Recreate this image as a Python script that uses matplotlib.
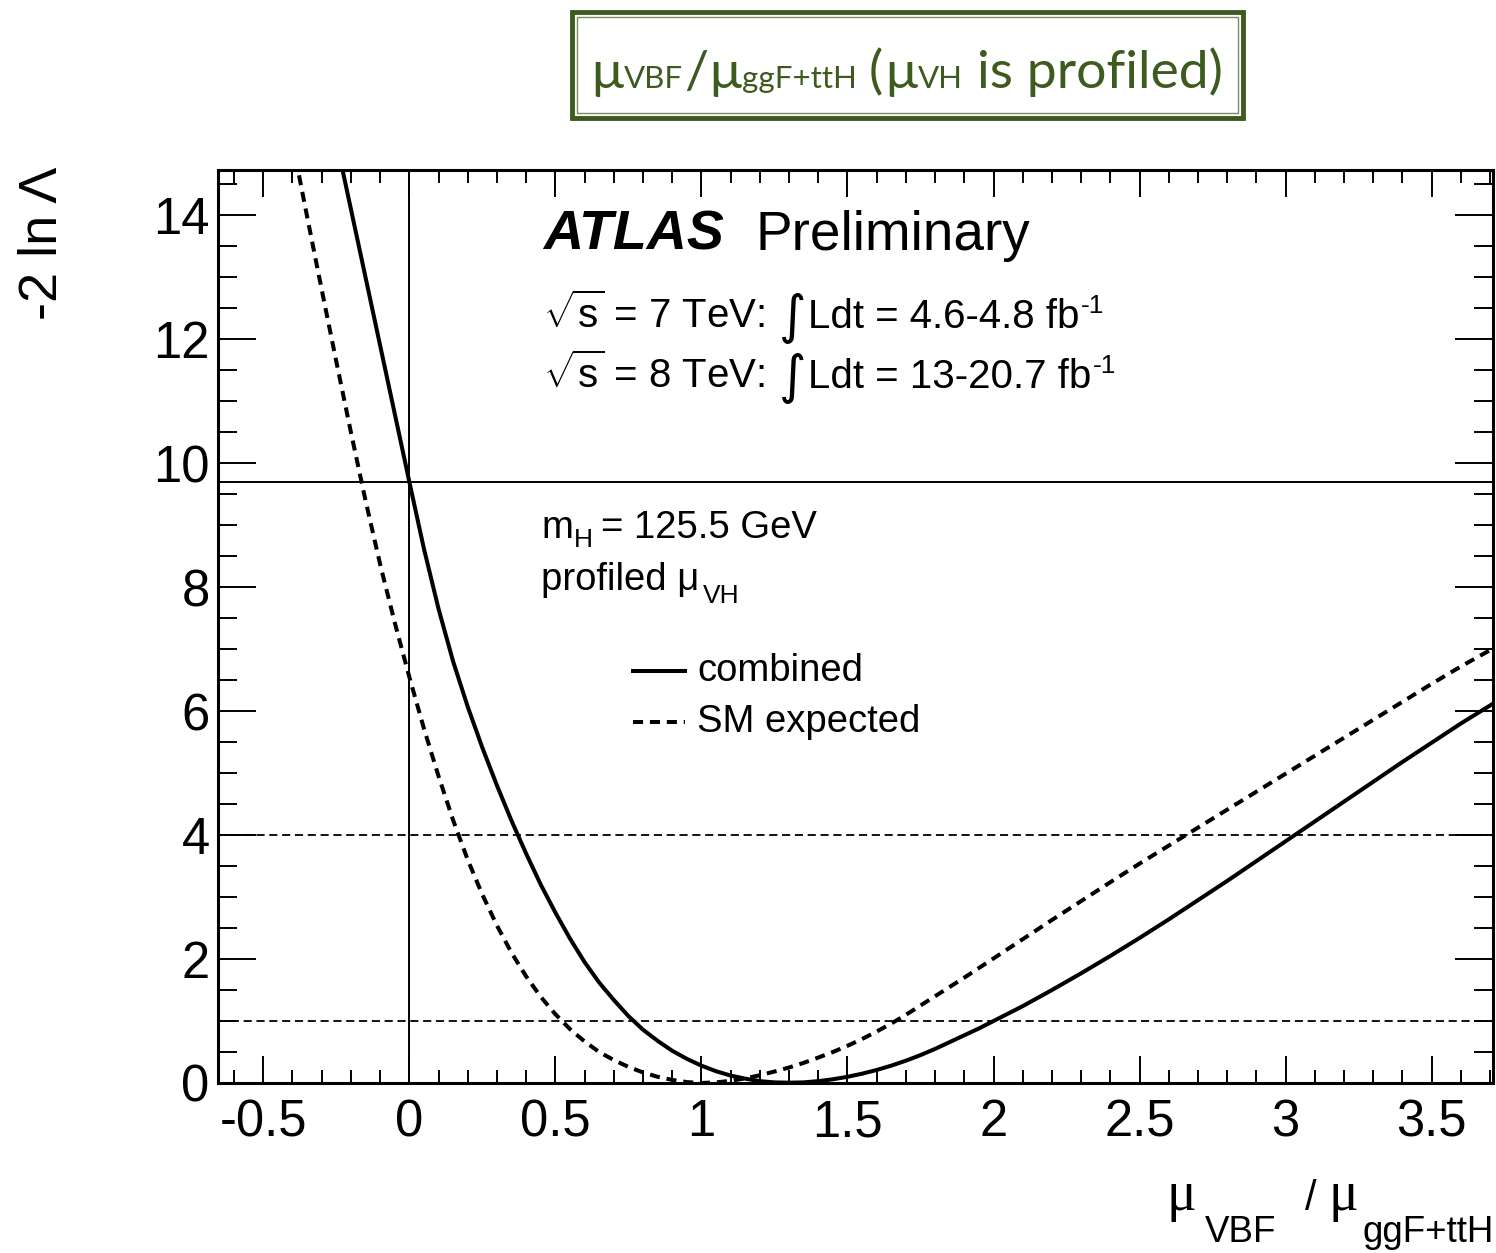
import matplotlib
matplotlib.use("Agg")
import matplotlib.pyplot as plt
from matplotlib.lines import Line2D
from matplotlib.patches import Rectangle
from matplotlib.ticker import MultipleLocator

W, H, DPI = 1496, 1253, 100

# -2 ln Lambda scan, combined (observed)
mu_obs = [-0.25, -0.20, -0.15, -0.10, -0.05, 0.00, 0.05, 0.10, 0.15, 0.20,
          0.25, 0.30, 0.35, 0.40, 0.45, 0.50, 0.55, 0.60, 0.65, 0.70,
          0.75, 0.80, 0.85, 0.90, 0.95, 1.00, 1.05, 1.10, 1.15, 1.20,
          1.25, 1.30, 1.35, 1.40, 1.45, 1.50, 1.55, 1.60, 1.65, 1.70,
          1.75, 1.80, 1.85, 1.90, 1.95, 2.00, 2.10, 2.20, 2.30, 2.40,
          2.50, 2.60, 2.70, 2.80, 2.90, 3.00, 3.10, 3.20, 3.30, 3.40,
          3.50, 3.60, 3.71]
nll_obs = [15.2, 14.1, 13.0, 11.9, 10.8, 9.7, 8.62, 7.65, 6.80, 6.07,
           5.41, 4.80, 4.23, 3.70, 3.20, 2.75, 2.33, 1.95, 1.62, 1.34,
           1.08, 0.86, 0.68, 0.52, 0.39, 0.28, 0.19, 0.12, 0.07, 0.03,
           0.01, 0.005, 0.01, 0.03, 0.06, 0.10, 0.15, 0.21, 0.28, 0.36,
           0.45, 0.55, 0.66, 0.77, 0.88, 1.00, 1.24, 1.50, 1.77, 2.05,
           2.34, 2.64, 2.95, 3.26, 3.58, 3.90, 4.22, 4.54, 4.86, 5.18,
           5.49, 5.80, 6.12]

# -2 ln Lambda scan, SM expected
mu_exp = [-0.40, -0.35, -0.30, -0.25, -0.20, -0.15, -0.10, -0.05, 0.00, 0.05,
          0.10, 0.15, 0.20, 0.25, 0.30, 0.35, 0.40, 0.45, 0.50, 0.55,
          0.60, 0.65, 0.70, 0.75, 0.80, 0.85, 0.90, 0.95, 1.00, 1.05,
          1.10, 1.15, 1.20, 1.25, 1.30, 1.35, 1.40, 1.45, 1.50, 1.55,
          1.60, 1.65, 1.70, 1.75, 1.80, 1.85, 1.90, 1.95, 2.00, 2.10,
          2.20, 2.30, 2.40, 2.50, 2.60, 2.70, 2.80, 2.90, 3.00, 3.10,
          3.20, 3.30, 3.40, 3.50, 3.60, 3.71]
nll_exp = [15.18, 13.98, 12.8, 11.64, 10.5, 9.4, 8.37, 7.43, 6.55, 5.72,
           4.95, 4.24, 3.60, 3.04, 2.54, 2.10, 1.72, 1.39, 1.11, 0.87,
           0.67, 0.50, 0.37, 0.26, 0.17, 0.10, 0.05, 0.015, 0.0, 0.01,
           0.035, 0.075, 0.125, 0.185, 0.25, 0.325, 0.41, 0.50, 0.60, 0.71,
           0.83, 0.96, 1.10, 1.25, 1.40, 1.55, 1.70, 1.855, 2.01, 2.32,
           2.63, 2.935, 3.24, 3.54, 3.83, 4.12, 4.41, 4.70, 4.99, 5.28,
           5.57, 5.86, 6.15, 6.44, 6.72, 7.01]

x_ticks = [-0.5, 0, 0.5, 1, 1.5, 2, 2.5, 3, 3.5]
x_tick_labels = ["-0.5", "0", "0.5", "1", "1.5", "2", "2.5", "3", "3.5"]
y_ticks = [0, 2, 4, 6, 8, 10, 12, 14]
sigma_levels = [1, 4]
nll_at_zero = 9.7

plt.rcParams["font.family"] = ["Liberation Sans", "DejaVu Sans"]
plt.rcParams["mathtext.fontset"] = "custom"
plt.rcParams["mathtext.rm"] = "Liberation Sans"
plt.rcParams["mathtext.it"] = "Liberation Sans:italic"
plt.rcParams["mathtext.bf"] = "Liberation Sans:bold"

green = "#3d5b1e"
sans = ["Liberation Sans", "DejaVu Sans"]
serif = ["Liberation Serif", "DejaVu Serif"]
dejavu = ["DejaVu Sans"]


def px(x, y):
    return x / W, 1 - y / H


def place_runs(fig, runs, x, y, align="left", color="black"):
    """Write text pieces one after another on a common baseline (pixels)."""
    renderer = fig.canvas.get_renderer()
    texts, widths = [], []
    for s, size, dy, fam, gap in runs:
        t = fig.text(0, 0, s, fontsize=size, family=fam, color=color,
                     va="baseline", ha="left")
        widths.append(t.get_window_extent(renderer).width + gap)
        texts.append((t, dy))
    total = sum(widths) - runs[-1][4]
    if align == "center":
        x0 = x - total / 2
    elif align == "right":
        x0 = x - total
    else:
        x0 = x
    for (t, dy), w in zip(texts, widths):
        t.set_position(px(x0, y + dy))
        x0 += w


fig = plt.figure(figsize=(W / DPI, H / DPI), dpi=DPI)
ax = fig.add_axes([218 / W, 1 - 1083 / H, (1493 - 218) / W, (1083 - 170) / H])

ax.plot(mu_obs, nll_obs, color="black", lw=2.9)
ax.plot(mu_exp, nll_exp, color="black", lw=2.9, linestyle=(0, (2.5, 1.7)))
ax.axhline(nll_at_zero, color="black", lw=1.4)
ax.axvline(0, color="black", lw=1.4)
for lvl in sigma_levels:
    ax.axhline(lvl, color="black", lw=1.3, linestyle=(0, (4.5, 2.6)))

ax.set_xlim(-0.655, 3.71)
ax.set_ylim(0, 14.73)
ax.set_xticks(x_ticks)
ax.set_xticklabels(x_tick_labels)
ax.set_yticks(y_ticks)
ax.xaxis.set_minor_locator(MultipleLocator(0.1))
ax.yaxis.set_minor_locator(MultipleLocator(0.5))
ax.tick_params(which="both", direction="in", top=True, right=True,
               width=1.4, labelsize=36.5)
ax.tick_params(axis="x", which="major", length=19.5, pad=11)
ax.tick_params(axis="x", which="minor", length=9.5)
ax.tick_params(axis="y", which="major", length=27.5, pad=6)
ax.tick_params(axis="y", which="minor", length=13.7)
for sp in ax.spines.values():
    sp.set_linewidth(2.2)

# ATLAS label and run info
fig.text(*px(543, 250), "ATLAS", fontsize=40, fontweight="bold",
         style="italic", va="baseline")
fig.text(*px(755, 250), "Preliminary", fontsize=39.5, va="baseline")
place_runs(fig, [(r"$\sqrt{\rm s}$ = 7 TeV:", 29, 0, sans, 14),
                 ("∫", 38, 5, dejavu, 2),
                 ("Ldt = 4.6-4.8 fb", 29, 0, sans, 1),
                 ("-1", 19, -15, sans, 0)], 543, 328)
place_runs(fig, [(r"$\sqrt{\rm s}$ = 8 TeV:", 29, 0, sans, 14),
                 ("∫", 38, 5, dejavu, 2),
                 ("Ldt = 13-20.7 fb", 29, 0, sans, 1),
                 ("-1", 19, -15, sans, 0)], 543, 388)
place_runs(fig, [("m", 27.5, 0, sans, 1),
                 ("H", 19, 9, sans, 8),
                 ("= 125.5 GeV", 27.5, 0, sans, 0)], 541, 538)
place_runs(fig, [("profiled μ", 27.5, 0, sans, 4),
                 ("VH", 19, 13, sans, 0)], 541, 590)

# legend
fig.add_artist(Line2D([633 / W, 685 / W], [1 - 671 / H] * 2, color="black", lw=2.9))
fig.add_artist(Line2D([633 / W, 685 / W], [1 - 722 / H] * 2, color="black",
                      lw=2.9, linestyle=(0, (2.5, 1.7))))
fig.text(*px(697, 671), "combined", fontsize=27.5, va="center")
fig.text(*px(697, 722), "SM expected", fontsize=27.5, va="center")

# axis titles
fig.text(*px(43, 167), "-2 ln Λ", rotation=90, fontsize=39, va="top", ha="center")
place_runs(fig, [("μ", 40, 0, serif, 9),
                 ("VBF", 26.5, 32, sans, 29),
                 ("/", 30, 0, sans, 12),
                 ("μ", 40, 0, serif, 4),
                 ("ggF+ttH", 26.5, 32, sans, 0)],
           1494, 1210, align="right")

# boxed heading
tfam = ["Lato", "Open Sans", "DejaVu Sans"]
place_runs(fig, [("μ", 38.5, 0, tfam, 1),
                 ("VBF", 22.5, 0, tfam, 1),
                 ("/", 38.5, 0, tfam, 1),
                 ("μ", 38.5, 0, tfam, 1),
                 ("ggF+ttH", 22.5, 0, tfam, 12),
                 ("(", 38.5, 0, tfam, 2),
                 ("μ", 38.5, 0, tfam, 1),
                 ("VH", 22.5, 0, tfam, 14),
                 ("is profiled)", 38.5, 0, tfam, 0)],
           907, 88, align="center", color=green)
fig.add_artist(Rectangle(px(572, 118), (1243 - 572) / W, (118 - 12) / H,
                         transform=fig.transFigure, fill=False,
                         edgecolor=green, lw=3.5))
fig.add_artist(Rectangle(px(577, 113), (1238 - 577) / W, (113 - 17) / H,
                         transform=fig.transFigure, fill=False,
                         edgecolor=green, lw=1.0, alpha=0.7))

fig.savefig("out.png", dpi=DPI)
